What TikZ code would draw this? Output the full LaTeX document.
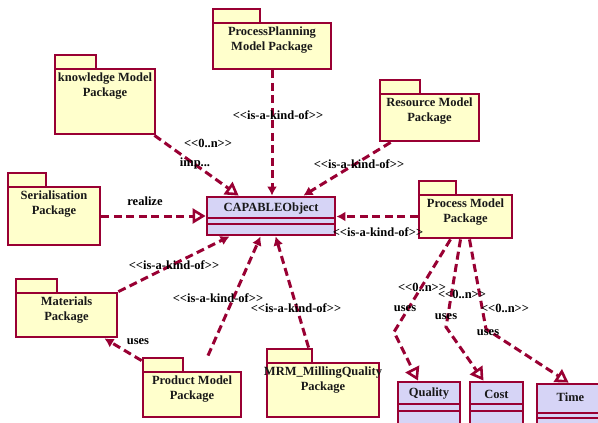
\documentclass[tikz,border=0pt]{standalone}
\usepackage{fontspec}
\setmainfont{Liberation Serif}
\usetikzlibrary{arrows.meta,calc}
\definecolor{mar}{RGB}{153,0,51}
\definecolor{pkgfill}{RGB}{255,255,204}
\definecolor{clsfill}{RGB}{214,212,246}
\newcommand\stereo[1]{<\kern0pt<#1>\kern0pt>}
\tikzset{
  boxline/.style={draw=mar, line width=2.8pt},
  pkgbody/.style={boxline, fill=pkgfill, inner sep=0pt},
  clsbody/.style={boxline, fill=clsfill, inner sep=0pt},
  txt/.style={font=\fontsize{12.5}{15.5}\selectfont\bfseries, inner sep=0pt, align=center, text=black!90},
  lbl/.style={txt, text=black},
  dep/.style={draw=mar, line width=3pt, dash pattern=on 8pt off 4.5pt},
  isa/.style={dep, -{Latex[length=9pt,width=10pt]}},
  real/.style={dep, -{Triangle[length=13pt,width=15pt,fill=white,line width=2.6pt]}},
}
% name, x1, y1, x2, y2, tab width, text
\newcommand\pkgbox[7]{%
  \draw[boxline, fill=pkgfill] (#2,#3) rectangle ++(#6,-14);
  \node[pkgbody, minimum width={(#4-#2)*1pt}, minimum height={(#5-#3)*1pt}] (#1) at ({(#2+#4)/2},{(#3+#5)/2}) {};
  \node[txt, anchor=north] (#1t) at ($(#1.north)+(0,5)$) {#7};
}
% name, x1, y1, x2, y2, line1, line2, text, text y
\newcommand\clsbox[9]{%
  \node[clsbody, minimum width={(#4-#2)*1pt}, minimum height={(#5-#3)*1pt}] (#1) at ({(#2+#4)/2},{(#3+#5)/2}) {};
  \draw[boxline] (#2,#6) -- (#4,#6);
  \draw[boxline] (#2,#7) -- (#4,#7);
  \node[txt] (#1t) at ({(#2+#4)/2},#9) {#8};
}
\begin{document}
\begin{tikzpicture}[x=1pt,y=-1pt]
\useasboundingbox (0,0) rectangle (598,423);
\clip (0,0) rectangle (598,423);
\fill[white] (0,0) rectangle (598,423);

% packages
\pkgbox{pp}{213}{23}{331}{69}{47}{ProcessPlanning\\Model Package}
\pkgbox{k}{55}{69}{155}{134}{41}{knowledge Model\\Package}
\pkgbox{s}{8}{187}{100}{245}{38}{Serialisation\\Package}
\pkgbox{r}{380}{94}{479}{141}{40}{Resource Model\\Package}
\pkgbox{pm}{419}{195}{512}{238}{37}{Process Model\\Package}
\pkgbox{m}{16}{293}{117}{337}{41}{Materials\\Package}
\pkgbox{pr}{143}{372}{241}{417}{40}{Product Model\\Package}
\pkgbox{mrm}{267}{363}{379}{417}{45}{MRM\_MillingQuality\\Package}

% classes
\clsbox{cap}{207}{197}{335}{235}{218}{224}{CAPABLEObject}{208}
\clsbox{q}{398}{382}{460}{428}{404}{411}{Quality}{394}
\clsbox{c}{470}{382}{523}{428}{404}{411}{Cost}{394}
\clsbox{t}{537}{384}{604}{428}{413}{418}{Time}{397}

% bend points
\coordinate (bq) at (394,332);
\coordinate (bc) at (446,327);
\coordinate (bt) at (486,329);

% connectors
\draw[isa] (pp.south) -- (pp.south |- cap.north);
\draw[real] ($(k.south east)+(-2,0)$) -- ($(cap.north west)+(33,0)$);
\draw[isa] ($(r.south west)+(12,0)$) -- ($(cap.north east)+(-33,0)$);
\draw[real] (s.east) -- (s.east -| cap.west);
\draw[isa] (pm.west) -- (pm.west -| cap.east);
\draw[isa] (m.north east) -- ($(cap.south west)+(24,0)$);
\draw[isa] ($(pr.north)+(16,-15)$) -- ($(cap.south west)+(55,0)$);
\draw[isa] ($(mrm.north west)+(43,-14)$) -- ($(cap.south west)+(70,0)$);
\draw[isa] ($(pr.north west)+(0,-10)$) -- ($(m.south east)+(-14,0)$);
\draw[real] ($(pm.south)+(-15,0)$) -- (bq) -- ($(q.north)+(-11,0)$);
\draw[real] ($(pm.south)+(-5,0)$) -- (bc) -- ($(c.north)+(-13,0)$);
\draw[real] ($(pm.south)+(4,0)$) -- (bt) -- ($(t.north west)+(33,0)$);

% labels
\node[lbl] (l1) at (278,115) {\stereo{is-a-kind-of}};
\node[lbl] (l2) at (208,143) {\stereo{0..n}};
\node[lbl] (l3) at (195,163) {imp...};
\node[lbl] (l4) at (359,164) {\stereo{is-a-kind-of}};
\node[lbl] (l5) at (145,201) {realize};
\node[lbl] (l6) at (378,232) {\stereo{is-a-kind-of}};
\node[lbl] (l7) at (174,265) {\stereo{is-a-kind-of}};
\node[lbl] (l8) at (218,298) {\stereo{is-a-kind-of}};
\node[lbl] (l9) at (296,308) {\stereo{is-a-kind-of}};
\node[lbl] (l10) at (138,342) {uses};
\node[lbl] (l11) at (422,287) {\stereo{0..n}};
\node[lbl] (l12) at (405,309) {uses};
\node[lbl] (l13) at (462,294) {\stereo{0..n}};
\node[lbl] (l14) at (446,317) {uses};
\node[lbl] (l15) at (505,308) {\stereo{0..n}};
\node[lbl] (l16) at (488,333) {uses};
\end{tikzpicture}
\end{document}
